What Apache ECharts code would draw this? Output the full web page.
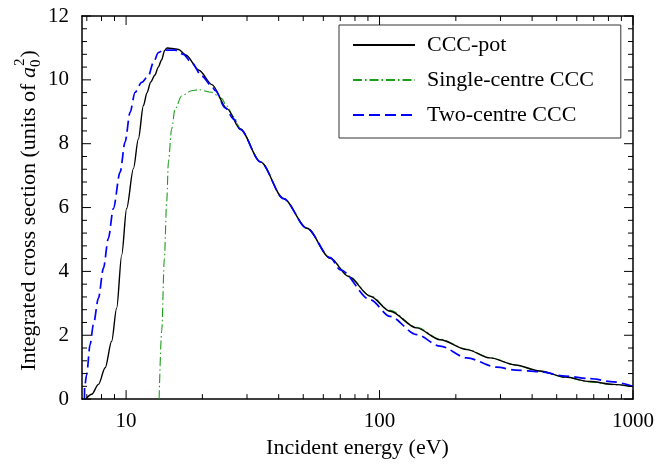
<!DOCTYPE html>
<html>
<head>
<meta charset="utf-8">
<script src="https://cdn.jsdelivr.net/npm/echarts@6.0.0/dist/echarts.min.js"></script>
<style>
html, body { margin: 0; padding: 0; background: #fff; }
#chart { width: 660px; height: 464px; }
</style>
</head>
<body>
<div id="chart"></div>
<script>
var seriesNames = ['CCC-pot', 'Single-centre CCC', 'Two-centre CCC'];

// CCC-pot (solid black)
var potEnergy = [6.93, 7.32, 7.78, 8.27, 8.77, 9.18, 9.61, 10.05, 10.69, 11.18, 11.7, 12.1, 12.5, 13.0, 13.4, 13.8, 14.2, 14.5, 15.2, 16.1, 17.2, 19.4, 21.8, 25.0, 28.2, 33.9, 41.8, 51.7, 63.9, 75.5, 91.9, 110, 140, 173.5, 221, 273, 343, 430, 540, 678, 837, 1000];
var potCross  = [0, 0.15, 0.46, 0.98, 1.81, 2.85, 4.51, 5.97, 7.22, 8.15, 9.19, 9.6, 9.93, 10.15, 10.4, 10.62, 10.92, 11.0, 10.98, 10.95, 10.78, 10.3, 9.85, 9.1, 8.46, 7.43, 6.28, 5.35, 4.41, 3.84, 3.22, 2.75, 2.23, 1.86, 1.55, 1.29, 1.07, 0.88, 0.69, 0.55, 0.46, 0.39];

// Single-centre CCC (green dash-dot)
var singleEnergy = [13.5, 13.82, 14.16, 14.46, 14.69, 15.12, 15.61, 16.57, 18.14, 19.3, 21.76, 23.8, 24.9, 26.6, 28.2, 33.9, 41.8, 51.7, 63.9, 75.5, 91.9, 110, 140, 173.5, 221, 273, 343, 430, 540, 678, 837, 1000];
var singleCross  = [0, 2.13, 4.41, 6.18, 7.43, 8.46, 9.09, 9.5, 9.66, 9.69, 9.61, 9.42, 9.19, 8.85, 8.47, 7.44, 6.29, 5.36, 4.42, 3.86, 3.24, 2.78, 2.25, 1.88, 1.56, 1.3, 1.07, 0.87, 0.68, 0.54, 0.45, 0.38];

// Two-centre CCC (blue dashed)
var twoEnergy = [6.85, 6.86, 6.99, 7.21, 7.43, 7.78, 8.14, 8.51, 8.91, 9.47, 9.91, 10.37, 10.85, 11.52, 12.24, 12.81, 13.41, 14.03, 15.61, 16.83, 18.14, 19.9, 21.76, 22.5, 24.6, 26.6, 28.2, 33.9, 41.8, 51.7, 63.9, 70, 91.9, 110, 140, 173.5, 221, 290, 343, 430, 540, 678, 837, 1000];
var twoCross  = [0, 0.38, 0.77, 1.71, 2.33, 3.16, 4.1, 5.03, 5.97, 7.11, 8.05, 8.98, 9.61, 9.92, 10.12, 10.54, 10.85, 10.93, 10.93, 10.8, 10.54, 10.12, 9.81, 9.66, 9.12, 8.77, 8.45, 7.43, 6.28, 5.35, 4.43, 4.05, 3.11, 2.59, 2.02, 1.66, 1.29, 1.0, 0.91, 0.86, 0.72, 0.64, 0.54, 0.4];

// tick values
var xMajorTicks = [10, 100, 1000];
var xMinorTicks = [7, 8, 9, 20, 30, 40, 50, 60, 70, 80, 90, 200, 300, 400, 500, 600, 700, 800, 900];
var yMajorTicks = [0, 2, 4, 6, 8, 10, 12];
var yMinorTicks = [0.4, 0.8, 1.2, 1.6, 2.4, 2.8, 3.2, 3.6, 4.4, 4.8, 5.2, 5.6, 6.4, 6.8, 7.2, 7.6, 8.4, 8.8, 9.2, 9.6, 10.4, 10.8, 11.2, 11.6];

var xMin = 6.7, xMax = 1000, yMin = 0, yMax = 12;
var majorLen = 9, minorLen = 5;

var fontFamily = '"Liberation Serif", "Times New Roman", serif';

function pairs(xs, ys) {
	var out = [];
	for (var i = 0; i < xs.length; i++) out.push([xs[i], ys[i]]);
	return out;
}
function withLen(vals, len) {
	return vals.map(function (v) { return [v, len]; });
}

// axis ticks did not show up reliably in this build, so they are drawn
// by custom series through the axes' own scales (inside, on all four sides)
function tickLine(x1, y1, x2, y2) {
	return { type: 'line', shape: { x1: x1, y1: y1, x2: x2, y2: y2 }, style: { stroke: '#000', lineWidth: 1 } };
}
function renderXTick(params, api) {
	var v = api.value(0), len = api.value(1);
	var pb = api.coord([v, yMin]);
	var pt = api.coord([v, yMax]);
	return { type: 'group', children: [
		tickLine(pb[0], pb[1], pb[0], pb[1] - len),
		tickLine(pt[0], pt[1], pt[0], pt[1] + len)
	] };
}
function renderYTick(params, api) {
	var v = api.value(0), len = api.value(1);
	var pl = api.coord([xMin, v]);
	var pr = api.coord([xMax, v]);
	return { type: 'group', children: [
		tickLine(pl[0], pl[1], pl[0] + len, pl[1]),
		tickLine(pr[0], pr[1], pr[0] - len, pr[1])
	] };
}

// y axis title with stacked sub/superscript
var ctx = document.createElement('canvas').getContext('2d');
function textWidth(s, font) { ctx.font = font; return ctx.measureText(s).width; }
var mainFont = '22px ' + fontFamily;
var italFont = 'italic 22px ' + fontFamily;
var smallFont = '15px ' + fontFamily;
var titleMain = 'Integrated cross section (units of ';
var w1 = textWidth(titleMain, mainFont);
var wa = textWidth('a', italFont);
var ws = textWidth('0', smallFont);
var wc = textWidth(')', mainFont);
var total = w1 + wa + ws + 1 + wc;
var x0 = -total / 2;

var chart = echarts.init(document.getElementById('chart'), null, { renderer: 'canvas' });

var option = {
	animation: false,
	backgroundColor: '#fff',
	grid: { left: 82, right: 27, top: 16, bottom: 62 },
	legend: {
		data: seriesNames,
		orient: 'vertical',
		left: 339,
		top: 25,
		itemWidth: 62,
		itemHeight: 14,
		itemGap: 13,
		padding: [9, 27, 12, 13],
		borderColor: '#333',
		borderWidth: 1,
		backgroundColor: '#fff',
		itemStyle: { opacity: 0 },
		textStyle: { fontFamily: fontFamily, fontSize: 22, color: '#000', padding: [0, 0, 0, 7] }
	},
	xAxis: [{
		type: 'log',
		logBase: 10,
		position: 'bottom',
		min: xMin,
		max: xMax,
		name: 'Incident energy (eV)',
		nameLocation: 'middle',
		nameGap: 33,
		nameTextStyle: { fontFamily: fontFamily, fontSize: 22, color: '#000' },
		axisLine: { show: true, onZero: false, lineStyle: { color: '#000', width: 1.5 } },
		axisTick: { show: false },
		axisLabel: {
			customValues: xMajorTicks,
			margin: 12,
			fontFamily: fontFamily,
			fontSize: 21,
			color: '#000',
			formatter: function (v) { return String(Math.round(v)); }
		},
		splitLine: { show: false }
	}, {
		type: 'log',
		logBase: 10,
		position: 'top',
		min: xMin,
		max: xMax,
		axisLine: { show: true, onZero: false, lineStyle: { color: '#000', width: 1.5 } },
		axisTick: { show: false },
		axisLabel: { show: false },
		splitLine: { show: false }
	}],
	yAxis: [{
		type: 'value',
		position: 'left',
		min: yMin,
		max: yMax,
		interval: 2,
		axisLine: { show: true, onZero: false, lineStyle: { color: '#000', width: 1.5 } },
		axisTick: { show: false },
		axisLabel: { margin: 13, fontFamily: fontFamily, fontSize: 21, color: '#000' },
		splitLine: { show: false }
	}, {
		type: 'value',
		position: 'right',
		min: yMin,
		max: yMax,
		interval: 2,
		axisLine: { show: true, onZero: false, lineStyle: { color: '#000', width: 1.5 } },
		axisTick: { show: false },
		axisLabel: { show: false },
		splitLine: { show: false }
	}],
	graphic: [{
		type: 'group',
		x: 29,
		y: 211,
		rotation: Math.PI / 2,
		children: [
			{ type: 'text', x: x0, y: 0, style: { text: titleMain, font: mainFont, fill: '#000', verticalAlign: 'middle' } },
			{ type: 'text', x: x0 + w1, y: 0, style: { text: 'a', font: italFont, fill: '#000', verticalAlign: 'middle' } },
			{ type: 'text', x: x0 + w1 + wa, y: 7, style: { text: '0', font: smallFont, fill: '#000', verticalAlign: 'middle' } },
			{ type: 'text', x: x0 + w1 + wa + 1, y: -9, style: { text: '2', font: smallFont, fill: '#000', verticalAlign: 'middle' } },
			{ type: 'text', x: x0 + w1 + wa + ws + 2, y: 0, style: { text: ')', font: mainFont, fill: '#000', verticalAlign: 'middle' } }
		]
	}],
	series: [{
		name: seriesNames[0],
		type: 'line',
		symbol: 'none',
		smooth: 0.3,
		smoothMonotone: 'x',
		lineStyle: { color: '#000', width: 1.4, type: 'solid' },
		itemStyle: { color: '#000' },
		data: pairs(potEnergy, potCross),
		z: 3
	}, {
		name: seriesNames[1],
		type: 'line',
		symbol: 'none',
		smooth: 0.3,
		smoothMonotone: 'x',
		lineStyle: { color: '#1a9e1a', width: 1.1, type: [9, 3, 1.5, 3] },
		itemStyle: { color: '#1a9e1a' },
		data: pairs(singleEnergy, singleCross),
		z: 2
	}, {
		name: seriesNames[2],
		type: 'line',
		symbol: 'none',
		smooth: 0.3,
		smoothMonotone: 'x',
		lineStyle: { color: '#0000ff', width: 1.7, type: [11, 5] },
		itemStyle: { color: '#0000ff' },
		data: pairs(twoEnergy, twoCross),
		z: 4
	}, {
		type: 'custom',
		xAxisIndex: 0,
		yAxisIndex: 0,
		silent: true,
		clip: false,
		encode: { x: 0 },
		renderItem: renderXTick,
		data: withLen(xMajorTicks, majorLen).concat(withLen(xMinorTicks, minorLen)),
		z: 5
	}, {
		type: 'custom',
		xAxisIndex: 0,
		yAxisIndex: 0,
		silent: true,
		clip: false,
		encode: { y: 0 },
		renderItem: renderYTick,
		data: withLen(yMajorTicks, majorLen).concat(withLen(yMinorTicks, minorLen)),
		z: 5
	}]
};

chart.setOption(option);
</script>
</body>
</html>
